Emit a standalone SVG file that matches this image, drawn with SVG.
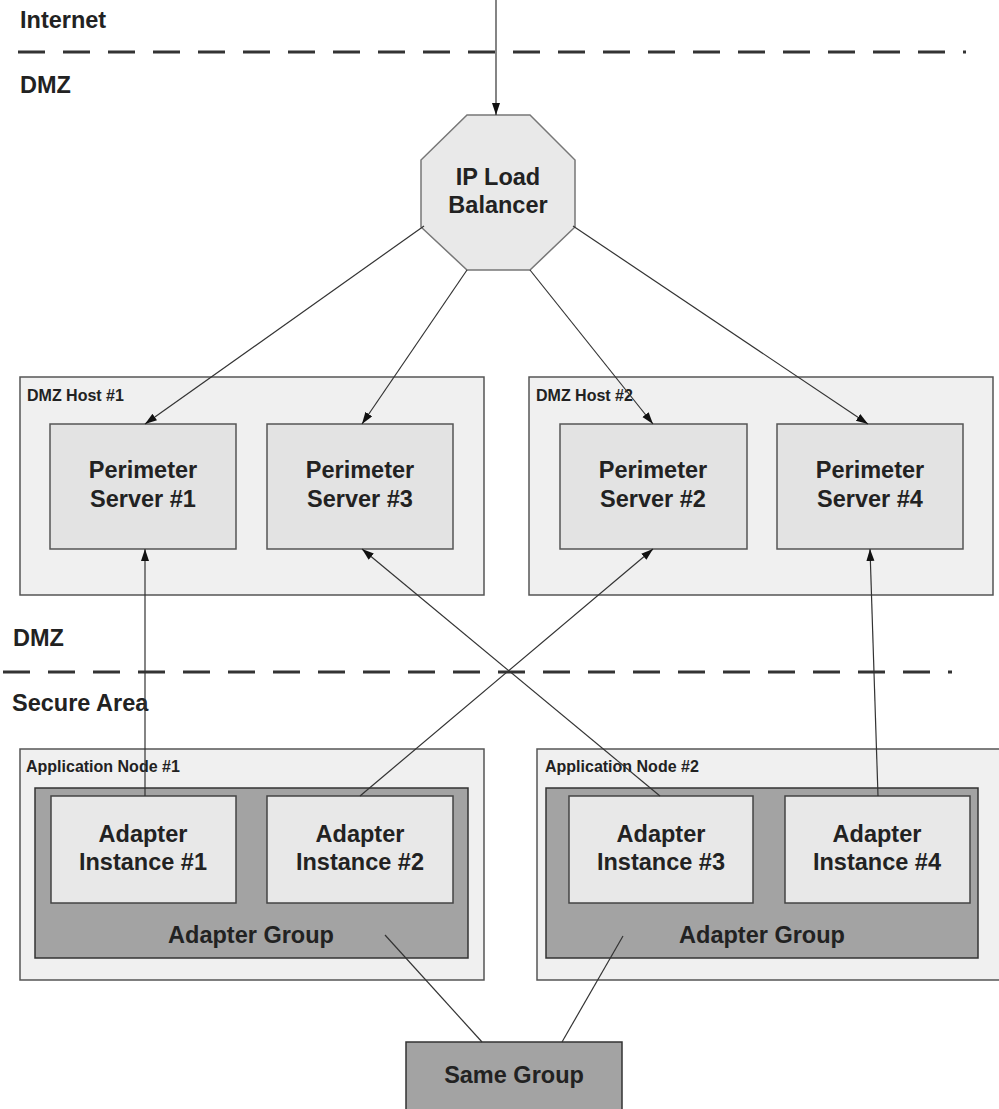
<svg xmlns="http://www.w3.org/2000/svg" width="999" height="1109" viewBox="0 0 999 1109">
  <style>
    text { font-family: "Liberation Sans", Arial, sans-serif; font-weight: bold; fill: #222; }
    .big { font-size: 23.5px; }
    .mid { font-size: 23.5px; text-anchor: middle; }
    .small { font-size: 16px; }
    .zone { fill: none; stroke: #333; stroke-width: 3; stroke-dasharray: 27 18; }
    .host { fill: #f0f0f0; stroke: #555; stroke-width: 1.5; }
    .server { fill: #e3e3e3; stroke: #555; stroke-width: 1.5; }
    .group { fill: #a3a3a3; stroke: #333; stroke-width: 1.5; }
    .inst { fill: #e8e8e8; stroke: #444; stroke-width: 1.5; }
    .octa { fill: #e9e9e9; stroke: #777; stroke-width: 1.5; }
    .link { fill: none; stroke: #333; stroke-width: 1.2; }
  </style>
  <defs>
    <marker id="arrow" markerUnits="userSpaceOnUse" markerWidth="13" markerHeight="9" refX="12" refY="4" orient="auto">
      <path d="M0,0 L12,4 L0,8 z" fill="#111"/>
    </marker>
  </defs>

  <rect width="999" height="1109" fill="#ffffff"/>

  <!-- zone separators and labels -->
  <g id="zones">
    <line class="zone" x1="18" y1="52" x2="966" y2="52"/>
    <line class="zone" x1="3" y1="672" x2="952" y2="672"/>
    <text class="big" x="20" y="28">Internet</text>
    <text class="big" x="20" y="93">DMZ</text>
    <text class="big" x="13" y="646">DMZ</text>
    <text class="big" x="12" y="711">Secure Area</text>
  </g>

  <g id="load-balancer">
    <polygon class="octa" points="467,115 530,115 575,160 575,227 530,270 467,270 421,227 421,160"/>
    <text class="mid" x="498" y="185">IP Load</text>
    <text class="mid" x="498" y="213">Balancer</text>
  </g>

  <g id="dmz-host-1">
    <rect class="host" x="20" y="377" width="464" height="218"/>
    <text class="small" x="27" y="401">DMZ Host #1</text>
  </g>
  <g id="dmz-host-2">
    <rect class="host" x="529" y="377" width="464" height="218"/>
    <text class="small" x="536" y="401">DMZ Host #2</text>
  </g>

  <g id="perimeter-server-1">
    <rect class="server" x="50" y="424" width="186" height="125"/>
    <text class="mid" x="143" y="478">Perimeter</text>
    <text class="mid" x="143" y="507">Server #1</text>
  </g>
  <g id="perimeter-server-3">
    <rect class="server" x="267" y="424" width="186" height="125"/>
    <text class="mid" x="360" y="478">Perimeter</text>
    <text class="mid" x="360" y="507">Server #3</text>
  </g>
  <g id="perimeter-server-2">
    <rect class="server" x="560" y="424" width="187" height="125"/>
    <text class="mid" x="653" y="478">Perimeter</text>
    <text class="mid" x="653" y="507">Server #2</text>
  </g>
  <g id="perimeter-server-4">
    <rect class="server" x="777" y="424" width="186" height="125"/>
    <text class="mid" x="870" y="478">Perimeter</text>
    <text class="mid" x="870" y="507">Server #4</text>
  </g>

  <g id="application-node-1">
    <rect class="host" x="20" y="749" width="464" height="231"/>
    <text class="small" x="26" y="772">Application Node #1</text>
  </g>
  <g id="application-node-2">
    <rect class="host" x="537" y="749" width="470" height="231"/>
    <text class="small" x="545" y="772">Application Node #2</text>
  </g>

  <g id="adapter-group-1">
    <rect class="group" x="35" y="788" width="433" height="170"/>
    <text class="mid" x="251" y="943">Adapter Group</text>
  </g>
  <g id="adapter-group-2">
    <rect class="group" x="546" y="788" width="432" height="170"/>
    <text class="mid" x="762" y="943">Adapter Group</text>
  </g>

  <g id="adapter-instance-1">
    <rect class="inst" x="51" y="796" width="185" height="107"/>
    <text class="mid" x="143" y="842">Adapter</text>
    <text class="mid" x="143" y="870">Instance #1</text>
  </g>
  <g id="adapter-instance-2">
    <rect class="inst" x="267" y="796" width="186" height="107"/>
    <text class="mid" x="360" y="842">Adapter</text>
    <text class="mid" x="360" y="870">Instance #2</text>
  </g>
  <g id="adapter-instance-3">
    <rect class="inst" x="569" y="796" width="184" height="107"/>
    <text class="mid" x="661" y="842">Adapter</text>
    <text class="mid" x="661" y="870">Instance #3</text>
  </g>
  <g id="adapter-instance-4">
    <rect class="inst" x="785" y="796" width="185" height="107"/>
    <text class="mid" x="877" y="842">Adapter</text>
    <text class="mid" x="877" y="870">Instance #4</text>
  </g>

  <g id="same-group">
    <rect class="group" x="406" y="1042" width="216" height="75"/>
    <text class="mid" x="514" y="1083">Same Group</text>
  </g>

  <!-- connectors -->
  <g id="connectors">
    <line class="link" x1="496" y1="0" x2="496" y2="115" marker-end="url(#arrow)"/>
    <line class="link" x1="424" y1="226" x2="145" y2="424" marker-end="url(#arrow)"/>
    <line class="link" x1="467" y1="270" x2="362" y2="424" marker-end="url(#arrow)"/>
    <line class="link" x1="530" y1="270" x2="653" y2="424" marker-end="url(#arrow)"/>
    <line class="link" x1="573" y1="226" x2="868" y2="424" marker-end="url(#arrow)"/>
    <line class="link" x1="145" y1="796" x2="145" y2="549" stroke-width="1.6" marker-end="url(#arrow)"/>
    <line class="link" x1="360" y1="796" x2="653" y2="549" marker-end="url(#arrow)"/>
    <line class="link" x1="660" y1="796" x2="362" y2="549" marker-end="url(#arrow)"/>
    <line class="link" x1="878" y1="796" x2="870" y2="549" marker-end="url(#arrow)"/>
    <line class="link" x1="385" y1="935" x2="482" y2="1042"/>
    <line class="link" x1="623" y1="936" x2="562" y2="1042"/>
  </g>
</svg>
